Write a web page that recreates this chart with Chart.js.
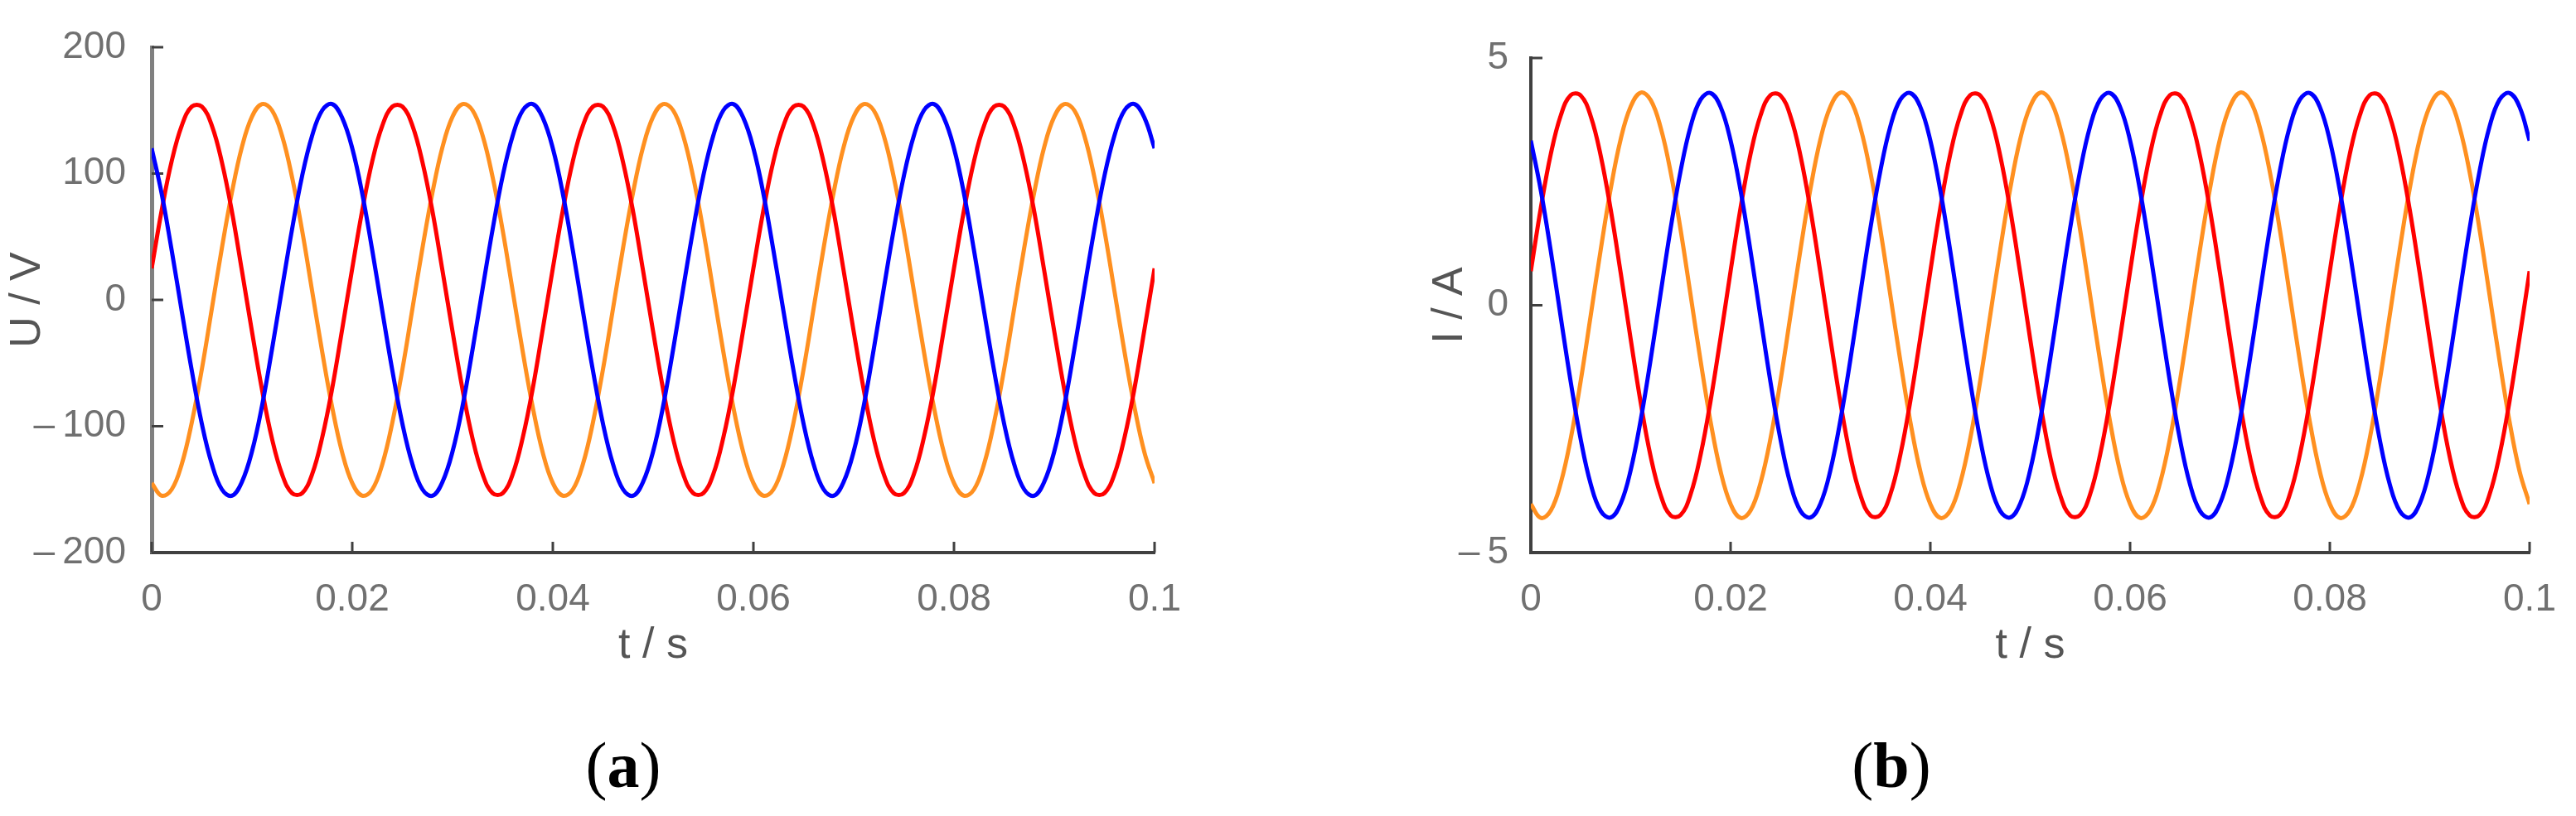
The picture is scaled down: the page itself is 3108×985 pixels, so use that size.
<!DOCTYPE html>
<html>
<head>
<meta charset="utf-8">
<script src="https://cdn.jsdelivr.net/npm/chart.js@4.4.1/dist/chart.umd.min.js"></script>
<style>
html, body { margin: 0; padding: 0; background: #fff; }
body { width: 3108px; height: 985px; position: relative; overflow: hidden; }
.panel { position: absolute; top: 0; width: 1554px; height: 817px; }
.caption { position: absolute; top: 885px; font-family: "Liberation Serif", "Times New Roman", serif; font-size: 78px; line-height: 78px; color: #000; transform: translateX(-50%); white-space: nowrap; }
</style>
</head>
<body>
<div class="panel" style="left:0"><canvas id="chartU" width="1554" height="817"></canvas></div>
<div class="panel" style="left:1554px"><canvas id="chartI" width="1554" height="817"></canvas></div>
<div class="caption" style="left:752px">(<b>a</b>)</div>
<div class="caption" style="left:2282px">(<b>b</b>)</div>
<script>
// sample times, s
const time = [
    0, 0.001, 0.002, 0.003, 0.004, 0.005, 0.006, 0.007, 0.008, 0.009,
    0.010, 0.011, 0.012, 0.013, 0.014, 0.015, 0.016, 0.017, 0.018, 0.019,
    0.020, 0.021, 0.022, 0.023, 0.024, 0.025, 0.026, 0.027, 0.028, 0.029,
    0.030, 0.031, 0.032, 0.033, 0.034, 0.035, 0.036, 0.037, 0.038, 0.039,
    0.040, 0.041, 0.042, 0.043, 0.044, 0.045, 0.046, 0.047, 0.048, 0.049,
    0.050, 0.051, 0.052, 0.053, 0.054, 0.055, 0.056, 0.057, 0.058, 0.059,
    0.060, 0.061, 0.062, 0.063, 0.064, 0.065, 0.066, 0.067, 0.068, 0.069,
    0.070, 0.071, 0.072, 0.073, 0.074, 0.075, 0.076, 0.077, 0.078, 0.079,
    0.080, 0.081, 0.082, 0.083, 0.084, 0.085, 0.086, 0.087, 0.088, 0.089,
    0.090, 0.091, 0.092, 0.093, 0.094, 0.095, 0.096, 0.097, 0.098, 0.099,
    0.100
];

// phase voltages, V
const uRed = [
    25, 71, 110, 138, 153, 153, 138, 109, 70, 23, -25, -71, -110, -138, -153, -153, -138, -109, -70, -23,
    25, 71, 110, 138, 153, 153, 138, 109, 70, 23, -25, -71, -110, -138, -153, -153, -138, -109, -70, -23,
    25, 71, 110, 138, 153, 153, 138, 109, 70, 23, -25, -71, -110, -138, -153, -153, -138, -109, -70, -23,
    25, 71, 110, 138, 153, 153, 138, 109, 70, 23, -25, -71, -110, -138, -153, -153, -138, -109, -70, -23,
    25, 71, 110, 138, 153, 153, 138, 109, 70, 23, -25, -71, -110, -138, -153, -153, -138, -109, -70, -23,
    25
];
const uOrange = [
    -145, -155, -150, -130, -97, -55, -7, 41, 85, 121, 145, 155, 150, 130, 97, 55, 7, -41, -85, -121,
    -145, -155, -150, -130, -97, -55, -7, 41, 85, 121, 145, 155, 150, 130, 97, 55, 7, -41, -85, -121,
    -145, -155, -150, -130, -97, -55, -7, 41, 85, 121, 145, 155, 150, 130, 97, 55, 7, -41, -85, -121,
    -145, -155, -150, -130, -97, -55, -7, 41, 85, 121, 145, 155, 150, 130, 97, 55, 7, -41, -85, -121,
    -145, -155, -150, -130, -97, -55, -7, 41, 85, 121, 145, 155, 150, 130, 97, 55, 7, -41, -85, -121,
    -145
];
const uBlue = [
    120, 84, 39, -9, -56, -98, -130, -150, -155, -144, -120, -84, -39, 9, 56, 98, 130, 150, 155, 144,
    120, 84, 39, -9, -56, -98, -130, -150, -155, -144, -120, -84, -39, 9, 56, 98, 130, 150, 155, 144,
    120, 84, 39, -9, -56, -98, -130, -150, -155, -144, -120, -84, -39, 9, 56, 98, 130, 150, 155, 144,
    120, 84, 39, -9, -56, -98, -130, -150, -155, -144, -120, -84, -39, 9, 56, 98, 130, 150, 155, 144,
    120, 84, 39, -9, -56, -98, -130, -150, -155, -144, -120, -84, -39, 9, 56, 98, 130, 150, 155, 144,
    120
];

// phase currents, A
const iRed = [
    0.69, 1.97, 3.06, 3.84, 4.25, 4.24, 3.82, 3.02, 1.93, 0.65, -0.69, -1.97, -3.06, -3.84, -4.25, -4.24, -3.82, -3.02, -1.93, -0.65,
    0.69, 1.97, 3.06, 3.84, 4.25, 4.24, 3.82, 3.02, 1.93, 0.65, -0.69, -1.97, -3.06, -3.84, -4.25, -4.24, -3.82, -3.02, -1.93, -0.65,
    0.69, 1.97, 3.06, 3.84, 4.25, 4.24, 3.82, 3.02, 1.93, 0.65, -0.69, -1.97, -3.06, -3.84, -4.25, -4.24, -3.82, -3.02, -1.93, -0.65,
    0.69, 1.97, 3.06, 3.84, 4.25, 4.24, 3.82, 3.02, 1.93, 0.65, -0.69, -1.97, -3.06, -3.84, -4.25, -4.24, -3.82, -3.02, -1.93, -0.65,
    0.69, 1.97, 3.06, 3.84, 4.25, 4.24, 3.82, 3.02, 1.93, 0.65, -0.69, -1.97, -3.06, -3.84, -4.25, -4.24, -3.82, -3.02, -1.93, -0.65,
    0.69
];
const iOrange = [
    -4.02, -4.30, -4.15, -3.59, -2.69, -1.52, -0.20, 1.13, 2.36, 3.36, 4.02, 4.30, 4.15, 3.59, 2.69, 1.52, 0.20, -1.13, -2.36, -3.36,
    -4.02, -4.30, -4.15, -3.59, -2.69, -1.52, -0.20, 1.13, 2.36, 3.36, 4.02, 4.30, 4.15, 3.59, 2.69, 1.52, 0.20, -1.13, -2.36, -3.36,
    -4.02, -4.30, -4.15, -3.59, -2.69, -1.52, -0.20, 1.13, 2.36, 3.36, 4.02, 4.30, 4.15, 3.59, 2.69, 1.52, 0.20, -1.13, -2.36, -3.36,
    -4.02, -4.30, -4.15, -3.59, -2.69, -1.52, -0.20, 1.13, 2.36, 3.36, 4.02, 4.30, 4.15, 3.59, 2.69, 1.52, 0.20, -1.13, -2.36, -3.36,
    -4.02, -4.30, -4.15, -3.59, -2.69, -1.52, -0.20, 1.13, 2.36, 3.36, 4.02, 4.30, 4.15, 3.59, 2.69, 1.52, 0.20, -1.13, -2.36, -3.36,
    -4.02
];
const iBlue = [
    3.33, 2.32, 1.09, -0.25, -1.56, -2.72, -3.62, -4.16, -4.29, -4.01, -3.33, -2.32, -1.09, 0.25, 1.56, 2.72, 3.62, 4.16, 4.29, 4.01,
    3.33, 2.32, 1.09, -0.25, -1.56, -2.72, -3.62, -4.16, -4.29, -4.01, -3.33, -2.32, -1.09, 0.25, 1.56, 2.72, 3.62, 4.16, 4.29, 4.01,
    3.33, 2.32, 1.09, -0.25, -1.56, -2.72, -3.62, -4.16, -4.29, -4.01, -3.33, -2.32, -1.09, 0.25, 1.56, 2.72, 3.62, 4.16, 4.29, 4.01,
    3.33, 2.32, 1.09, -0.25, -1.56, -2.72, -3.62, -4.16, -4.29, -4.01, -3.33, -2.32, -1.09, 0.25, 1.56, 2.72, 3.62, 4.16, 4.29, 4.01,
    3.33, 2.32, 1.09, -0.25, -1.56, -2.72, -3.62, -4.16, -4.29, -4.01, -3.33, -2.32, -1.09, 0.25, 1.56, 2.72, 3.62, 4.16, 4.29, 4.01,
    3.33
];

// tick labels
const xTickLabels = ["0", "0.02", "0.04", "0.06", "0.08", "0.1"];
const uTickLabels = ["\u2013\u2009200", "\u2013\u2009100", "0", "100", "200"];
const iTickLabels = ["\u2013\u20095", "0", "5"];

const tickFont = {family: "'Liberation Sans', Arial, sans-serif", size: 46};
const titleFont = {family: "'Liberation Sans', Arial, sans-serif", size: 52};

// MATLAB style ticks pointing into the plot
const inwardTicks = {
    id: "inwardTicks",
    beforeDatasetsDraw(chart) {
        const {ctx, chartArea, scales} = chart;
        ctx.save();
        ctx.strokeStyle = "#404040";
        ctx.lineWidth = 3;
        ctx.beginPath();
        scales.x.ticks.forEach(function(t){
            const px = scales.x.getPixelForValue(t.value);
            ctx.moveTo(px, chartArea.bottom);
            ctx.lineTo(px, chartArea.bottom - 13);
        });
        scales.y.ticks.forEach(function(t){
            const py = scales.y.getPixelForValue(t.value);
            ctx.moveTo(chartArea.left, py);
            ctx.lineTo(chartArea.left + 14, py);
        });
        ctx.stroke();
        ctx.restore();
    }
};

function toPoints(y){
    return time.map(function(t, i){ return {x: t, y: y[i]}; });
}

function getPhaseChart(ctx, red, orange, blue, yMin, yMax, yStep, yLabels, yTitle, opts){
    var chart = new Chart(ctx, {
        type: "line",
        data: {
            datasets: [
                {data: toPoints(blue), borderColor: "#0000ff"},
                {data: toPoints(red), borderColor: "#ff0000"},
                {data: toPoints(orange), borderColor: "#ff9020"}
            ]
        },
        options: {
            responsive: false,
            animation: false,
            layout: {
                padding: {top: opts.top, right: opts.right, bottom: 0, left: 0}
            },
            elements: {
                point: {radius: 0},
                line: {borderWidth: 5, tension: 0.4}
            },
            plugins: {
                legend: {display: false},
                tooltip: {enabled: false}
            },
            scales: {
                x: {
                    type: "linear",
                    min: 0,
                    max: 0.1,
                    grid: {display: false},
                    border: {display: true, color: "#404040", width: 4},
                    ticks: {
                        stepSize: 0.02,
                        autoSkip: false,
                        maxRotation: 0,
                        padding: 22,
                        color: "#707070",
                        font: tickFont,
                        callback: function(value, index){ return xTickLabels[index]; }
                    },
                    title: {
                        display: true,
                        text: "t / s",
                        color: "#555555",
                        font: titleFont,
                        padding: {top: 0, bottom: 6}
                    },
                    afterFit: function(scale){
                        scale.height = 150;
                        scale.paddingLeft = 0;
                        scale.paddingRight = 0;
                    }
                },
                y: {
                    min: yMin,
                    max: yMax,
                    grid: {display: false},
                    border: {display: true, color: opts.yColor, width: opts.yWidth},
                    ticks: {
                        stepSize: yStep,
                        autoSkip: false,
                        padding: opts.tickPad,
                        color: "#707070",
                        font: tickFont,
                        callback: function(value, index){ return yLabels[index]; }
                    },
                    title: {
                        display: true,
                        text: yTitle,
                        color: "#555555",
                        font: titleFont,
                        padding: {top: opts.titlePad, bottom: 0}
                    },
                    afterFit: function(scale){
                        scale.width = opts.axisWidth;
                        scale.paddingTop = 0;
                        scale.paddingBottom = 0;
                    }
                }
            }
        },
        plugins: [inwardTicks]
    });
    return chart;
}

getPhaseChart(document.getElementById("chartU"), uRed, uOrange, uBlue, -200, 200, 100, uTickLabels, "U / V",
    {top: 57, right: 161, axisWidth: 183, tickPad: 23, titlePad: 2, yColor: "#808080", yWidth: 5});
getPhaseChart(document.getElementById("chartI"), iRed, iOrange, iBlue, -5, 5, 5, iTickLabels, "I / A",
    {top: 70, right: 56, axisWidth: 293, tickPad: 19, titlePad: 164, yColor: "#404040", yWidth: 4});
</script>
</body>
</html>
